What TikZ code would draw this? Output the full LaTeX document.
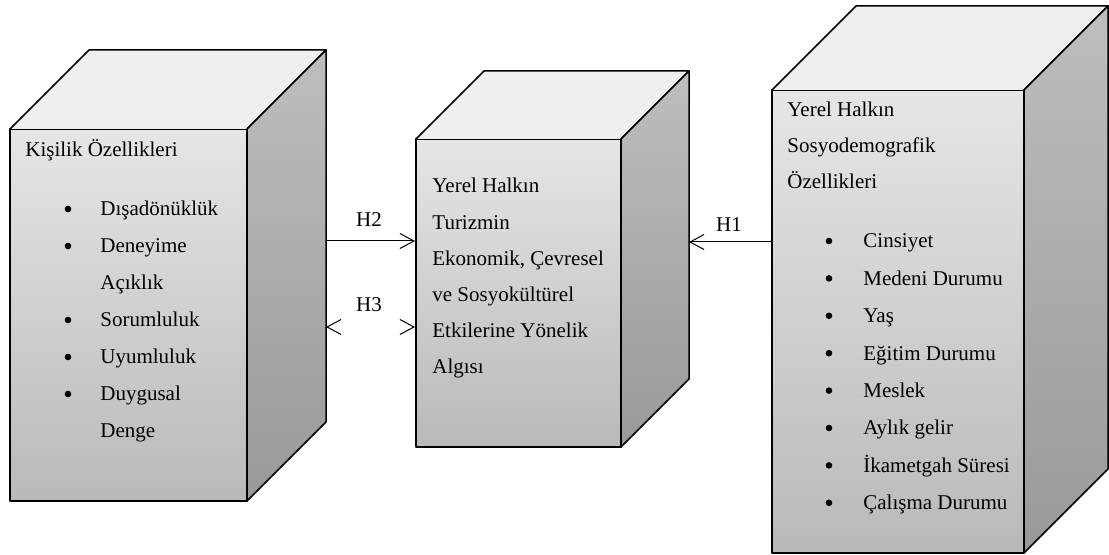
\documentclass[tikz,border=0pt]{standalone}
\usepackage{fontspec}
\setmainfont{Liberation Serif}
\usetikzlibrary{arrows.meta}

\definecolor{onust}{HTML}{E6E6E6}
\definecolor{onalt}{HTML}{B9B9B9}
\definecolor{yanust}{HTML}{BEBEBE}
\definecolor{yanalt}{HTML}{999999}
\definecolor{tavan}{HTML}{EFEFEF}

% kutu: sol x, ust y, sag x, alt y, derinlik
\newcommand{\kutu}[5]{%
  \shade[top color=onust, bottom color=onalt, draw, line width=.75pt, line join=round]
    (#1,#2) rectangle (#3,#4);
  \fill[tavan] (#1,#2) -- ++(#5,-#5) -- ({#3+#5},{#2-#5}) -- (#3,#2) -- cycle;
  \draw[line width=.75pt, line join=round] (#1,#2) -- ++(#5,-#5) -- ({#3+#5},{#2-#5}) -- (#3,#2);
  \shade[top color=yanust, bottom color=yanalt, draw, line width=.75pt, line join=round]
    (#3,#2) -- ({#3+#5},{#2-#5}) -- ({#3+#5},{#4-#5}) -- (#3,#4) -- cycle;
}

\tikzset{
  ok/.style={-{Straight Barb[length=7pt, width=7.5pt]}, line width=.5pt},
  yazi/.style={anchor=base west, inner sep=0pt, font=\fontsize{10.5}{12}\selectfont},
  etiket/.style={anchor=base, inner sep=0pt, font=\fontsize{10.5}{12}\selectfont}
}

\begin{document}
\begin{tikzpicture}[x=.5pt, y=-.5pt]
      \useasboundingbox (0,0) rectangle (1109,555);

      % kutular
      \kutu{10}{129}{247}{501}{79}
      \kutu{416}{139}{621}{447}{68}
      \kutu{772}{90}{1024}{553}{84}

      % sol kutu
      \node[yazi] (kb) at (25, 157) {Kişilik Özellikleri};
      \foreach \t [count=\i] in {Dışadönüklük, Deneyime, Açıklık, Sorumluluk, Uyumluluk, Duygusal, Denge}
        \node[yazi] (k\i) at (100, {216+37*(\i-1)}) {\t};
      \foreach \i in {1, 2, 4, 5, 6}
        \fill (68, {209+37*(\i-1)}) circle (3.3);

      % orta kutu
      \foreach \t [count=\i] in {Yerel Halkın, Turizmin, {Ekonomik, Çevresel}, ve Sosyokültürel, Etkilerine Yönelik, Algısı}
        \node[yazi] (m\i) at (432, {193+36.2*(\i-1)}) {\t};

      % sag kutu
      \foreach \t [count=\i] in {Yerel Halkın, Sosyodemografik, Özellikleri}
        \node[yazi] (s\i) at (787, {117+36*(\i-1)}) {\t};
      \foreach \t [count=\i] in {Cinsiyet, Medeni Durumu, Yaş, Eğitim Durumu, Meslek, Aylık gelir, İkametgah Süresi, Çalışma Durumu}
        {\node[yazi] (d\i) at (863, {248+37.4*(\i-1)}) {\t};
         \fill (829, {241+37.4*(\i-1)}) circle (3.3);}

      % baglantilar
      \coordinate (a) at (326, 241);
      \coordinate (b) at (415, 241);
      \coordinate (c) at (326, 327);
      \coordinate (d) at (415, 327);
      \coordinate (e) at (772, 242);
      \coordinate (f) at (689, 242);
      \draw[ok] (a) -- (b);
      \draw[ok] ([xshift=.5pt]c) -- (c);
      \draw[ok] ([xshift=-.5pt]d) -- (d);
      \draw[ok] (e) -- (f);

      \node[etiket] (h2) at (369, 227) {H2};
      \node[etiket] (h3) at (369, 312) {H3};
      \node[etiket] (h1) at (729, 232) {H1};
\end{tikzpicture}
\end{document}
